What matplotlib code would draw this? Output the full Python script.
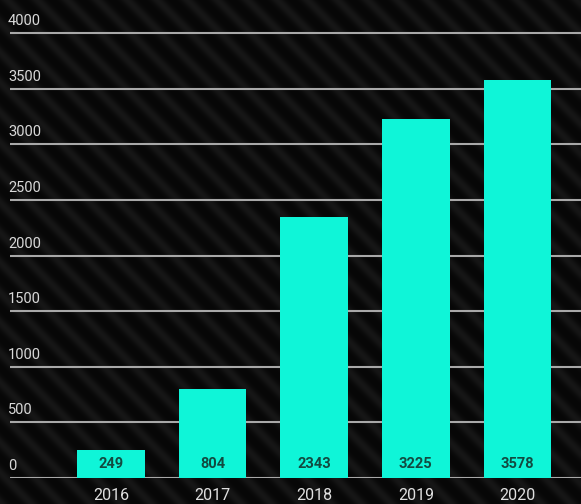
import matplotlib.pyplot as plt
import matplotlib.transforms as mtransforms
import numpy as np

years = ['2016', '2017', '2018', '2019', '2020']
counts = [249, 804, 2343, 3225, 3578]
yticks = [0, 500, 1000, 1500, 2000, 2500, 3000, 3500, 4000]

plt.rcParams['font.family'] = ['Roboto', 'DejaVu Sans']

fig = plt.figure(figsize=(5.81, 5.04), dpi=100)
fig.patch.set_facecolor('#050505')

# diagonal striped background texture
bg = fig.add_axes([0, 0, 1, 1])
h, w = 504, 581
yy, xx = np.mgrid[0:h, 0:w]
phase = (xx - yy) / 30.0 * 2 * np.pi
tex = (0.5 + 0.5 * np.sin(phase)) ** 2
img = 0.03 + 0.06 * tex
bg.imshow(img, cmap='gray', vmin=0, vmax=1, aspect='auto', interpolation='bilinear')
bg.axis('off')

ax = fig.add_axes([10 / 581, 26 / 504, 571 / 581, 478 / 504])
ax.patch.set_alpha(0)
x = np.arange(len(years))
ax.bar(x, counts, width=0.667, color='#0ff5d8', zorder=3)

for yv in yticks:
    ax.axhline(yv, color='#a8a8a8', lw=1.5, zorder=2)

ax.set_xlim(-0.994, 4.626)
ax.set_ylim(0, 4297)

for s in ax.spines.values():
    s.set_visible(False)
ax.set_yticks([])
ax.set_xticks(x)
ax.set_xticklabels(years, color='#e0e0e0', fontsize=11.5)
ax.tick_params(axis='x', length=0, pad=7)

# y labels sit above gridlines, at the left edge
ylab_tr = mtransforms.offset_copy(ax.get_yaxis_transform(), fig=fig, x=-2, y=5, units='dots')
for yv in yticks:
    ax.text(0, yv, str(yv), transform=ylab_tr, ha='left', va='bottom',
            color='#d8d8d8', fontsize=10.5)

val_tr = mtransforms.offset_copy(ax.transData, fig=fig, x=0, y=14, units='dots')
for xi, v in zip(x, counts):
    ax.text(xi, 0, str(v), transform=val_tr, ha='center', va='center',
            color='#124a40', fontsize=10.5, fontweight='bold', zorder=4)

plt.savefig('out.png', dpi=100, facecolor=fig.get_facecolor())
